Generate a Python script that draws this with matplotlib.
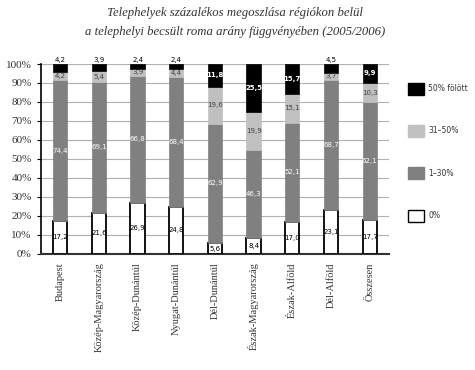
import numpy as np
import matplotlib.pyplot as plt
from matplotlib.patches import Patch

# ============================================================
# Data
# ============================================================

regions = ['Budapest', 'Közép-Magyarország', 'Közép-Dunántúl',
           'Nyugat-Dunántúl', 'Dél-Dunántúl', 'Észak-Magyarország',
           'Észak-Alföld', 'Dél-Alföld', 'Összesen']

share_0 = [17.2, 21.6, 26.9, 24.8, 5.6, 8.4, 17.0, 23.1, 17.7]
share_1_30 = [74.4, 69.1, 66.8, 68.4, 62.9, 46.3, 52.1, 68.7, 62.1]
share_31_50 = [4.2, 5.4, 3.9, 4.4, 19.6, 19.9, 15.1, 3.7, 10.3]
share_50 = [4.2, 3.9, 2.4, 2.4, 11.8, 25.5, 15.7, 4.5, 9.9]

series_labels = ['0%', '1–30%', '31–50%', '50% fölött']

# ============================================================
# Figure
# ============================================================

fig = plt.figure(figsize=(4.75, 3.7), dpi=100)
ax = fig.add_axes([0.086, 0.314, 0.733, 0.513])

x = np.arange(len(regions))
width = 0.37

series = [share_0, share_1_30, share_31_50, share_50]
faces = ['white', '#808080', '#c0c0c0', 'black']
edges = ['black', '#808080', '#c0c0c0', 'black']
txt_colors = ['black', 'white', '#404040', 'white']

bottom = np.zeros(len(regions))
for k, vals in enumerate(series):
    vals = np.array(vals)
    ax.bar(x, vals, width, bottom=bottom, color=faces[k],
           edgecolor=edges[k], linewidth=1.3 if k == 0 else 0.5, zorder=3)
    for i, v in enumerate(vals):
        lab = f'{v:.1f}'.replace('.', ',')
        if k == 3 and v < 5:
            ax.text(x[i], bottom[i] + v + 0.6, lab, ha='center', va='bottom',
                    fontsize=5, color='black', zorder=4)
        else:
            ax.text(x[i], bottom[i] + v / 2, lab, ha='center', va='center',
                    fontsize=5, color=txt_colors[k],
                    fontweight='bold' if k == 3 else 'normal', zorder=4)
    bottom += vals

ax.set_ylim(0, 100)
ax.set_xlim(-0.5, len(regions) - 0.5)
ax.set_yticks(np.arange(0, 101, 10))
ax.set_yticklabels([f'{v}%' for v in range(0, 101, 10)],
                   family='Liberation Serif', fontsize=8, color='#333333')
ax.set_xticks(x)
ax.set_xticklabels(regions, rotation=90, family='Liberation Serif',
                   fontsize=7.5, color='#333333')
ax.tick_params(axis='x', length=0, pad=6)
ax.tick_params(axis='y', length=3, width=0.8, direction='out')

ax.yaxis.grid(True, color='#b0b0b0', linewidth=0.8, zorder=0)
ax.spines['top'].set_visible(False)
ax.spines['right'].set_visible(False)
ax.spines['left'].set_linewidth(1.2)
ax.spines['bottom'].set_linewidth(1.5)
ax.spines['bottom'].set_color('#333333')

# Legend
handles = [Patch(facecolor=faces[k], edgecolor='black' if k == 0 else faces[k],
                 label=series_labels[k]) for k in [3, 2, 1, 0]]
fig.legend(handles=handles, loc='upper left', bbox_to_anchor=(0.845, 0.795),
           frameon=False, fontsize=5.5, labelspacing=4.0, handlelength=2.0,
           handleheight=2.0, handletextpad=0.6, labelcolor='#333333')

fig.text(0.495, 0.965, 'Telephelyek százalékos megoszlása régiókon belül',
         ha='center', va='center', family='Liberation Serif', style='italic',
         fontsize=9.2, color='#333333')
fig.text(0.495, 0.913, 'a telephelyi becsült roma arány függvényében (2005/2006)',
         ha='center', va='center', family='Liberation Serif', style='italic',
         fontsize=9.2, color='#333333')

fig.savefig('out.png', dpi=100)
